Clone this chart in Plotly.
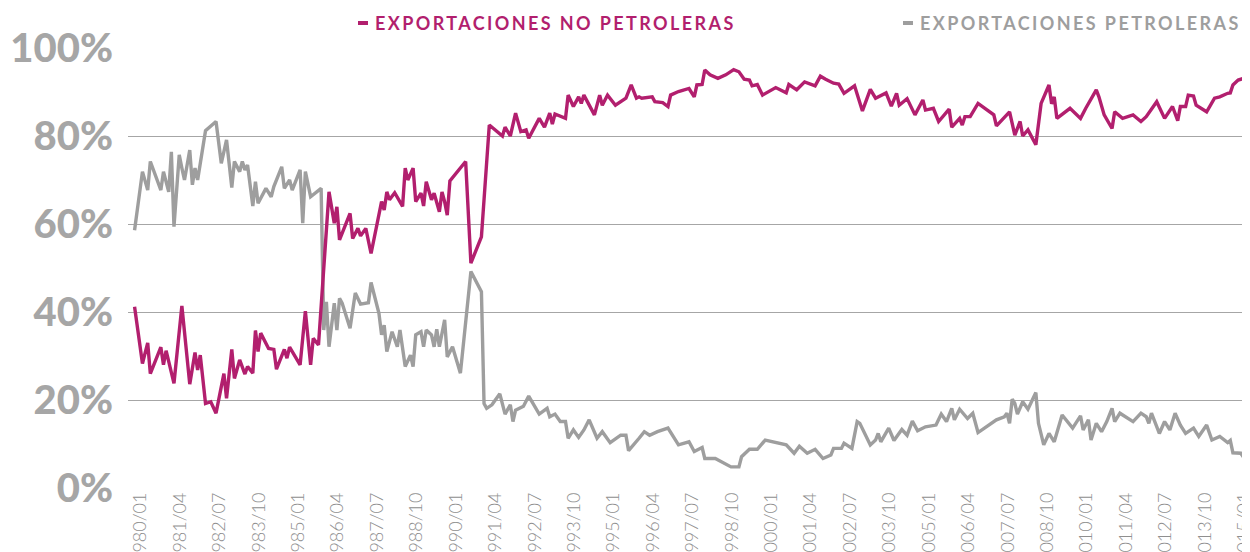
import plotly.graph_objects as go

# ---------------- data ----------------
# monthly categories 1980/01 .. 2015/05
months = [f"{y}/{m:02d}" for y in range(1980, 2016) for m in range(1, 13)][:425]

tick_labels = ["1980/01", "1981/04", "1982/07", "1983/10", "1985/01", "1986/04",
               "1987/07", "1988/10", "1990/01", "1991/04", "1992/07", "1993/10",
               "1995/01", "1996/04", "1997/07", "1998/10", "2000/01", "2001/04",
               "2002/07", "2003/10", "2005/01", "2006/04", "2007/07", "2008/10",
               "2010/01", "2011/04", "2012/07", "2013/10", "2015/01"]

y_ticks = [0, 20, 40, 60, 80, 100]
y_tick_text = ["0%", "20%", "40%", "60%", "80%", "100%"]

# Exportaciones no petroleras (% of total) -- month index into `months`
nopet_idx = [0, 3, 5, 6, 10, 11, 12, 15, 18, 21, 23, 24, 25, 27, 29, 31, 34, 35, 37, 38,
             40, 42, 43, 45, 46, 47, 48, 51, 53, 54, 57, 58, 59, 63, 65, 67, 68, 70, 74, 76,
             77, 78, 82, 83, 85, 86, 88, 90, 94, 95, 96, 97, 99, 102, 103, 104, 106, 107, 109, 110,
             111, 113, 114, 116, 117, 118, 119, 120, 126, 128, 132, 135, 140, 141, 143, 145, 147, 149, 150, 154,
             156, 158, 159, 160, 164, 165, 167, 169, 170, 171, 175, 177, 178, 180, 183, 187, 189, 191, 192, 193,
             197, 198, 201, 203, 204, 207, 211, 213, 214, 216, 217, 219, 222, 225, 228, 230, 232, 234, 235, 237,
             239, 244, 248, 249, 252, 255, 259, 261, 263, 266, 268, 270, 274, 277, 280, 282, 286, 288, 290, 291,
             294, 297, 300, 301, 304, 306, 310, 311, 314, 315, 316, 318, 321, 327, 328, 333, 335, 337, 338, 340,
             343, 345, 348, 349, 350, 351, 356, 360, 362, 366, 367, 369, 372, 373, 376, 380, 383, 385, 389, 392,
             395, 397, 398, 400, 401, 403, 404, 408, 411, 413, 416, 417, 418, 420, 423, 424]
nopet_val = [41.2, 28.3, 33.0, 26.0, 32.0, 28.0, 31.2, 23.8, 41.4, 23.6, 30.8, 26.8, 30.2, 19.2, 19.6, 17.0, 26.0, 20.4, 31.5, 24.9,
             29.1, 25.9, 27.6, 26.1, 35.8, 31.0, 35.2, 31.7, 31.5, 27.0, 31.5, 29.5, 32.0, 28.0, 40.2, 28.0, 34.0, 32.5, 67.3, 60.2,
             63.9, 56.4, 62.4, 56.7, 59.0, 57.3, 59.0, 53.3, 65.1, 63.2, 67.3, 65.5, 67.1, 64.0, 72.7, 70.0, 72.7, 65.1, 67.0, 64.1,
             69.6, 65.5, 67.0, 62.8, 67.3, 65.1, 62.0, 69.8, 74.2, 51.1, 57.1, 82.5, 80.0, 82.0, 80.0, 85.2, 81.0, 81.4, 79.5, 84.0,
             82.0, 85.2, 82.7, 85.0, 84.0, 89.3, 86.7, 88.9, 87.4, 89.3, 84.8, 89.3, 87.0, 89.3, 87.0, 88.6, 91.6, 88.6, 88.9, 88.6,
             88.9, 87.8, 87.6, 86.7, 89.3, 90.1, 90.8, 88.9, 91.6, 91.7, 95.0, 93.9, 93.1, 93.9, 95.1, 94.6, 92.9, 92.7, 91.4, 91.7,
             89.3, 91.0, 89.8, 91.7, 90.5, 92.3, 91.4, 93.6, 92.9, 92.0, 91.8, 89.7, 91.4, 85.7, 90.6, 88.6, 89.8, 86.8, 89.7, 87.0,
             88.5, 84.8, 88.2, 85.9, 86.3, 83.3, 86.1, 82.0, 84.0, 82.5, 84.4, 84.4, 87.4, 84.8, 82.3, 85.5, 80.2, 83.3, 80.0, 81.4,
             78.0, 87.4, 91.6, 87.3, 88.9, 84.0, 86.3, 84.0, 86.3, 90.5, 88.9, 84.8, 81.7, 85.5, 84.0, 84.8, 83.3, 84.4, 87.8, 84.0,
             86.7, 83.5, 86.7, 86.7, 89.3, 89.1, 87.0, 85.5, 88.6, 88.9, 89.7, 89.8, 91.6, 92.7, 93.3, 93.5]

# Exportaciones petroleras (% of total)
pet_idx = [0, 3, 5, 6, 10, 11, 13, 14, 15, 17, 18, 19, 21, 22, 23, 24, 27, 31, 33, 35,
           37, 38, 40, 41, 42, 43, 45, 46, 47, 50, 52, 53, 56, 57, 59, 60, 63, 64, 65, 67,
           71, 72, 73, 74, 76, 77, 78, 79, 82, 84, 86, 89, 90, 93, 94, 95, 96, 98, 100, 101,
           103, 105, 106, 107, 109, 110, 111, 113, 114, 115, 116, 118, 119, 121, 124, 128, 132, 133, 134, 136,
           139, 141, 143, 144, 145, 148, 150, 154, 157, 158, 160, 162, 164, 165, 167, 169, 171, 173, 176, 178,
           181, 185, 187, 188, 192, 194, 196, 199, 203, 207, 211, 213, 216, 217, 221, 227, 230, 231, 234, 237,
           240, 248, 251, 253, 256, 259, 262, 265, 266, 269, 270, 273, 275, 276, 280, 282, 283, 284, 287, 289,
           292, 294, 296, 298, 301, 305, 307, 309, 311, 312, 314, 317, 319, 321, 328, 331, 332, 333, 334, 335,
           336, 338, 340, 343, 344, 346, 348, 350, 353, 357, 360, 361, 363, 364, 366, 368, 370, 372, 373, 375,
           380, 383, 385, 386, 387, 390, 392, 394, 396, 398, 400, 403, 405, 408, 410, 413, 416, 417, 418, 421,
           424]
pet_val = [58.6, 71.9, 67.7, 74.2, 67.7, 71.9, 67.3, 76.4, 59.4, 75.7, 72.7, 70.0, 76.8, 68.9, 72.7, 70.0, 81.2, 83.3, 73.8, 79.1,
           68.3, 74.2, 71.9, 74.2, 72.3, 73.4, 64.1, 69.6, 64.7, 68.1, 66.2, 68.5, 73.0, 68.1, 70.0, 67.7, 72.3, 60.2, 71.9, 66.2,
           68.1, 35.9, 42.3, 32.1, 42.0, 35.9, 43.1, 42.0, 36.3, 44.3, 41.8, 42.1, 46.7, 39.7, 34.8, 37.0, 31.0, 35.5, 32.1, 35.9,
           27.6, 30.2, 27.6, 34.8, 35.5, 32.1, 35.9, 34.8, 32.1, 36.1, 32.1, 38.2, 29.8, 32.1, 26.1, 49.2, 44.6, 19.2, 18.1, 18.9,
           21.4, 16.8, 18.9, 15.1, 17.7, 18.6, 20.9, 16.8, 18.1, 16.2, 16.8, 15.1, 15.1, 11.3, 13.2, 11.5, 13.2, 15.5, 11.3, 12.8,
           10.3, 12.0, 12.0, 8.5, 11.3, 12.8, 12.0, 12.8, 13.6, 9.8, 10.5, 8.3, 9.2, 6.7, 6.7, 4.8, 4.8, 7.1, 8.8, 8.8,
           10.9, 9.8, 7.9, 9.5, 7.9, 8.8, 6.7, 7.5, 9.0, 9.0, 10.2, 9.0, 15.1, 14.7, 9.8, 10.9, 12.4, 10.5, 13.6, 10.8,
           13.3, 12.0, 15.2, 13.0, 13.9, 14.3, 16.8, 15.1, 18.1, 15.5, 17.9, 15.8, 17.0, 12.6, 15.5, 16.2, 17.0, 14.7, 20.2, 19.2,
           16.8, 19.6, 17.9, 21.7, 14.7, 9.8, 12.4, 10.5, 16.6, 13.6, 16.4, 13.2, 15.5, 10.9, 14.7, 12.8, 15.1, 18.1, 15.1, 17.0,
           15.1, 17.0, 16.2, 14.7, 17.0, 12.4, 15.1, 13.2, 17.0, 14.3, 12.4, 13.6, 11.7, 14.3, 10.9, 11.7, 10.3, 10.8, 8.0, 7.9,
           5.2]

series_names = ["EXPORTACIONES NO PETROLERAS", "EXPORTACIONES PETROLERAS"]
colors = ["#B21F6E", "#9E9E9E"]

# ---------------- figure ----------------
# the page body adds an 8px margin, so the figure is 8px smaller and shifted
OFF = 8
W, H = 1250 - OFF, 552 - OFF
ML, MR, MT, MB = 128 - OFF, 0, 48 - OFF, 64
PW, PH = W - ML - MR, H - MT - MB

def px2x(px):  # page pixel -> paper x
    return (px - OFF - ML) / PW

def py2y(py):  # page pixel -> paper y
    return (H - MB - (py - OFF)) / PH

fig = go.Figure()
fig.add_trace(go.Scatter(x=[months[i] for i in pet_idx], y=pet_val, mode="lines",
                         line=dict(color=colors[1], width=3.4), name=series_names[1],
                         showlegend=False))
fig.add_trace(go.Scatter(x=[months[i] for i in nopet_idx], y=nopet_val, mode="lines",
                         line=dict(color=colors[0], width=3.4), name=series_names[0],
                         showlegend=False))

# legend drawn as text + short dash
legend_items = [(358, 373, series_names[0], colors[0]),
                (903, 918, series_names[1], colors[1])]
for dash_px, text_px, name, col in legend_items:
    fig.add_shape(type="line", xref="paper", yref="paper",
                  x0=px2x(dash_px), x1=px2x(dash_px + 10), y0=py2y(23), y1=py2y(23),
                  line=dict(color=col, width=4))
    fig.add_annotation(text=f"<b><span style='letter-spacing:2.4px'>{name}</span></b>",
                       xref="paper", yref="paper",
                       x=px2x(text_px), y=py2y(23), xanchor="left", yanchor="middle",
                       showarrow=False, font=dict(family="Lato", size=18, color=col))

fig.update_layout(
    width=W, height=H, margin=dict(l=ML, r=MR, t=MT, b=MB, autoexpand=False),
    paper_bgcolor="white", plot_bgcolor="white",
    xaxis=dict(type="category", categoryorder="array", categoryarray=months,
               range=[-2.5, 424.5], tickmode="array", tickvals=tick_labels, ticktext=tick_labels,
               tickangle=-90, ticklabelshift=6,
               tickfont=dict(family="Lato", size=18, color="#8F8F8F", weight=300),
               showgrid=False, zeroline=False, showline=False, ticks="", automargin=False),
    yaxis=dict(range=[0, 100], tickmode="array", tickvals=y_ticks, ticktext=y_tick_text,
               showgrid=True, gridcolor="#A6A6A6", gridwidth=1.3, zeroline=False, showline=False,
               ticks="", ticklabelstandoff=14, automargin=False,
               tickfont=dict(family="Lato", size=40, color="#A6A6A6", weight=900)),
)

fig.write_html("out.html")
